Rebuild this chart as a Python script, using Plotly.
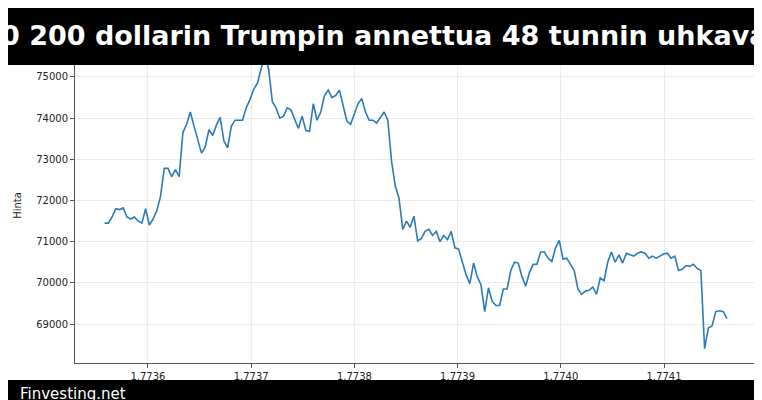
import numpy as np
import plotly.graph_objects as go

prices = [71450, 71450, 71600, 71800, 71780, 71820, 71600, 71550, 71600, 71500, 71450, 71800, 71400, 71550, 71750, 72100,
          72780, 72780, 72580, 72750, 72580, 73650, 73850, 74150, 73800, 73500, 73150, 73300, 73720, 73580, 73830, 74020,
          73450, 73280, 73800, 73950, 73950, 73950, 74250, 74450, 74700, 74850, 75200, 75550, 75200, 74400, 74250, 74000,
          74050, 74250, 74200, 73950, 73750, 74050, 73700, 73680, 74350, 73950, 74150, 74550, 74680, 74500, 74550, 74680,
          74300, 73930, 73850, 74100, 74350, 74480, 74150, 73950, 73950, 73880, 74020, 74150, 73950, 72950, 72350, 72050,
          71300, 71500, 71350, 71620, 71020, 71080, 71250, 71300, 71150, 71250, 71000, 71150, 71050, 71250, 70850, 70820,
          70500, 70200, 69980, 70480, 70150, 69950, 69300, 69880, 69550, 69450, 69450, 69850, 69850, 70300, 70500, 70480,
          70150, 69920, 70250, 70450, 70450, 70750, 70750, 70600, 70520, 70850, 71030, 70580, 70600, 70450, 70300, 69850,
          69720, 69800, 69820, 69900, 69720, 70120, 70050, 70500, 70750, 70500, 70680, 70480, 70720, 70680, 70650, 70720,
          70750, 70720, 70600, 70650, 70600, 70650, 70700, 70720, 70600, 70650, 70300, 70330, 70420, 70400, 70450, 70350,
          70300, 68400, 68900, 68950, 69300, 69320, 69300, 69130]
x_start, x_end = 1.773558, 1.774161
times = np.linspace(x_start, x_end, len(prices))
x_ticks = [1.7736, 1.7737, 1.7738, 1.7739, 1.7740, 1.7741]
y_ticks = [69000, 70000, 71000, 72000, 73000, 74000, 75000]
title = "0 200 dollarin Trumpin annettua 48 tunnin uhkava"
brand = "Finvesting.net"

fig = go.Figure(go.Scatter(x=times, y=prices, mode="lines", line=dict(color="#2b7bba", width=1.6)))
axis_common = dict(showline=True, mirror=True, linecolor="#555", linewidth=1, ticks="outside", ticklen=4,
                   tickcolor="#555", gridcolor="#ebebeb", zeroline=False, automargin=False,
                   tickfont=dict(family="DejaVu Sans", size=10, color="#222"))
fig.update_xaxes(range=[1.7735293, 1.7741901], tickvals=x_ticks, ticktext=[f"{v:.4f}" for v in x_ticks], **axis_common)
fig.update_yaxes(range=[68053, 75704], tickvals=y_ticks, ticktext=[str(v) for v in y_ticks],
                 title=dict(text="Hinta", font=dict(family="DejaVu Sans", size=10, color="#222"), standoff=12), **axis_common)
fig.update_layout(width=762, height=400, margin=dict(l=67, r=13, t=40, b=45), plot_bgcolor="white", paper_bgcolor="white",
                  showlegend=False,
                  shapes=[dict(type="rect", xref="paper", yref="paper", x0=-0.2, x1=1.2, y0=0.946, y1=1.2, fillcolor="black", line_width=0, layer="above"),
                          dict(type="rect", xref="paper", yref="paper", x0=-0.2, x1=1.2, y0=-0.2, y1=-0.054, fillcolor="black", line_width=0, layer="above")],
                  annotations=[dict(text=f"<b>{title}</b>", xref="paper", yref="paper", x=0.4545, y=1.04, xanchor="center", yanchor="middle",
                                    showarrow=False, font=dict(family="DejaVu Sans", size=27, color="white")),
                               dict(text=brand, xref="paper", yref="paper", x=-0.083, y=-0.098, xanchor="left", yanchor="middle",
                                    showarrow=False, font=dict(family="DejaVu Sans", size=15, color="white"))])
fig.write_html("out.html")
